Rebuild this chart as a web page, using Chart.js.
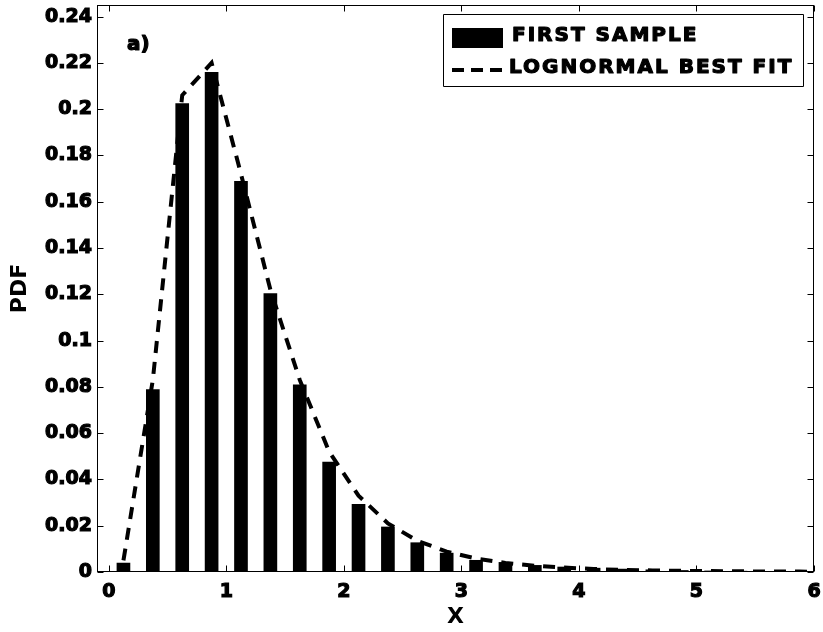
<!DOCTYPE html>
<html>
<head>
<meta charset="utf-8">
<script src="https://cdn.jsdelivr.net/npm/chart.js@4.4.0/dist/chart.umd.min.js"></script>
<style>
  html, body { margin: 0; padding: 0; background: #fff; }
</style>
</head>
<body>
<canvas id="pdfChart" width="823" height="632"></canvas>
<script>
// bin centres of the histogram
const binCenters = [0.125, 0.375, 0.625, 0.875, 1.125, 1.375, 1.625, 1.875,
    2.125, 2.375, 2.625, 2.875, 3.125, 3.375, 3.625, 3.875,
    4.125, 4.375, 4.625, 4.875, 5.125, 5.375, 5.625, 5.875]
const sampleValues = [0.0040, 0.0790, 0.2025, 0.2160, 0.1690, 0.1205, 0.0810, 0.0476,
    0.0294, 0.0196, 0.0128, 0.0083, 0.0052, 0.0043, 0.0030, 0.0023,
    0.0018, 0.0014, 0.0011, 0.0008, 0.0006, 0.0005, 0.0003, 0.0002]

// lognormal fit, evaluated at the same centres plus the end of the axis
const fitX = [0.125, 0.375, 0.625, 0.875, 1.125, 1.375, 1.625, 1.875,
    2.125, 2.375, 2.625, 2.875, 3.125, 3.375, 3.625, 3.875,
    4.125, 4.375, 4.625, 4.875, 5.125, 5.375, 5.625, 5.875, 6.0]
const fitValues = [0.005, 0.083, 0.206, 0.220, 0.172, 0.122, 0.083, 0.052,
    0.033, 0.021, 0.0135, 0.0088, 0.0058, 0.0039, 0.0027, 0.0019,
    0.0013, 0.0009, 0.0007, 0.0005, 0.0004, 0.0003, 0.0002, 0.0002, 0.0001]

const xTickValues = [0, 1, 2, 3, 4, 5, 6]
const yTickValues = [0, 0.02, 0.04, 0.06, 0.08, 0.1, 0.12, 0.14, 0.16, 0.18, 0.2, 0.22, 0.24]

const FONT = 'DejaVu Sans'

// heavy text like the old bitmap bold font
function heavyText(ctx, text, x, y) {
    ctx.strokeText(text, x, y)
    ctx.fillText(text, x, y)
}

// box round the plot, ticks pointing inwards on all four sides, the "a)" tag and the legend
const framePlugin = {
    id: 'frame',
    afterDraw(chart) {
        const { ctx, chartArea: a, scales: { x, y } } = chart
        const L = Math.round(a.left) + 0.5, R = Math.round(a.right) - 0.5
        const T = Math.round(a.top) + 0.5, B = Math.round(a.bottom) - 0.5
        ctx.save()
        ctx.strokeStyle = '#000'
        ctx.lineWidth = 1
        ctx.strokeRect(L, T, R - L, B - T)
        ctx.beginPath()
        xTickValues.forEach(v => {
            const px = Math.round(x.getPixelForValue(v)) + 0.5
            ctx.moveTo(px, B); ctx.lineTo(px, B - 6)
            ctx.moveTo(px, T); ctx.lineTo(px, T + 6)
        })
        yTickValues.forEach(v => {
            const py = Math.round(y.getPixelForValue(v)) + 0.5
            ctx.moveTo(L, py); ctx.lineTo(L + 6, py)
            ctx.moveTo(R, py); ctx.lineTo(R - 6, py)
        })
        ctx.stroke()

        ctx.fillStyle = '#000'
        ctx.lineWidth = 1.2
        ctx.lineJoin = 'round'
        ctx.font = 'bold 20px ' + FONT
        ctx.textBaseline = 'middle'
        ctx.textAlign = 'left'
        heavyText(ctx, 'a)', a.left + 30, a.top + 40)

        // legend
        const bars = chart.data.datasets[0], fit = chart.data.datasets[1]
        const bx = a.right - 371, by = a.top + 9, bw = 360, bh = 72
        ctx.fillStyle = '#fff'
        ctx.fillRect(bx, by, bw, bh)
        ctx.lineWidth = 1
        ctx.strokeRect(Math.round(bx) + 0.5, Math.round(by) + 0.5, bw, bh)
        ctx.fillStyle = bars.backgroundColor
        ctx.fillRect(bx + 9, by + 14, 51, 20)
        ctx.beginPath()
        ctx.setLineDash([12, 7])
        ctx.lineWidth = fit.borderWidth
        ctx.strokeStyle = fit.borderColor
        ctx.moveTo(bx + 9, by + 56)
        ctx.lineTo(bx + 60, by + 56)
        ctx.stroke()
        ctx.setLineDash([])
        ctx.fillStyle = '#000'
        ctx.lineWidth = 1.2
        ctx.font = 'bold 20px ' + FONT
        ctx.letterSpacing = '2px'
        heavyText(ctx, bars.label, bx + 69, by + 22)
        heavyText(ctx, fit.label, bx + 66, by + 54)
        ctx.restore()
    }
}

const ctx = document.getElementById('pdfChart').getContext('2d')

new Chart(ctx, {
    type: 'bar',
    data: {
        datasets: [{
            type: 'bar',
            label: 'FIRST SAMPLE',
            data: binCenters.map((c, i) => ({ x: c, y: sampleValues[i] })),
            backgroundColor: '#000',
            borderWidth: 0,
            categoryPercentage: 1,
            barPercentage: 0.465,
            order: 1
        }, {
            type: 'line',
            label: 'LOGNORMAL BEST FIT',
            data: fitX.map((c, i) => ({ x: c, y: fitValues[i] })),
            borderColor: '#000',
            borderWidth: 4,
            borderDash: [12, 9],
            pointRadius: 0,
            tension: 0,
            fill: false,
            order: 0
        }]
    },
    options: {
        responsive: false,
        animation: false,
        layout: { padding: { top: 5, right: 9, left: 0, bottom: 0 } },
        plugins: {
            legend: { display: false },
            tooltip: { enabled: false }
        },
        scales: {
            x: {
                type: 'linear',
                min: -0.1,
                max: 6,
                offset: false,
                grid: { display: false, drawTicks: false },
                border: { display: false },
                afterBuildTicks: scale => { scale.ticks = xTickValues.map(v => ({ value: v })) },
                afterFit: scale => {
                    scale.height = 60
                    scale.paddingLeft = 0
                    scale.paddingRight = 0
                },
                ticks: {
                    color: '#000',
                    padding: 9,
                    maxRotation: 0,
                    textStrokeColor: '#000',
                    textStrokeWidth: 1.2,
                    font: { family: FONT, size: 19, weight: 'bold' }
                },
                title: {
                    display: true,
                    text: 'X',
                    color: '#000',
                    padding: { top: 0, bottom: 2 },
                    font: { family: FONT, size: 22, weight: 'bold' }
                }
            },
            y: {
                min: 0,
                max: 0.245,
                grid: { display: false, drawTicks: false },
                border: { display: false },
                afterBuildTicks: scale => { scale.ticks = yTickValues.map(v => ({ value: v })) },
                afterFit: scale => {
                    scale.width = 97
                    scale.paddingTop = 0
                    scale.paddingBottom = 0
                },
                ticks: {
                    color: '#000',
                    padding: 5,
                    textStrokeColor: '#000',
                    textStrokeWidth: 1.2,
                    font: { family: FONT, size: 19, weight: 'bold' },
                    callback: value => String(+value.toFixed(2))
                },
                title: {
                    display: true,
                    text: 'PDF',
                    color: '#000',
                    padding: { top: 7, bottom: 0 },
                    font: { family: FONT, size: 22, weight: 'bold' }
                }
            }
        }
    },
    plugins: [framePlugin]
})
</script>
</body>
</html>
